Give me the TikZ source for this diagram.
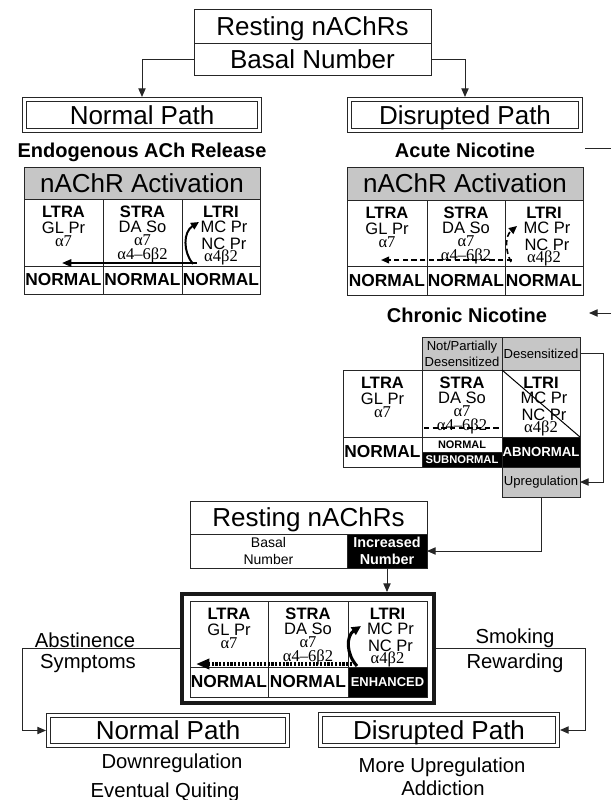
\documentclass[tikz,border=0pt]{standalone}
\usepackage{fontspec}
\setmainfont{Liberation Sans}
\newfontfamily\grf{Liberation Serif}
\usetikzlibrary{calc,arrows.meta}
\newcounter{tl}
\newcommand\Tline[3]{\stepcounter{tl}\node[anchor=base, font=#1] (tl\arabic{tl}) at #2 {#3};}
\newcommand\Rect[7][]{\node[#1, minimum width={(#5-#3)*0.75pt}, minimum height={(#6-#4)*0.75pt}] (#2) at ({(#3+#5)/2},{(#4+#6)/2}) {#7};}
\newcommand\fbig{\fontsize{19.5}{22}\selectfont}
\newcommand\fsub{\bfseries\fontsize{15}{18}\selectfont}
\newcommand\fmid{\fontsize{15.2}{18}\selectfont}
\newcommand\ftab{\fontsize{12.4}{14}\selectfont}
\newcommand\ftabb{\bfseries\fontsize{12.4}{14}\selectfont}
\newcommand\fnorm{\bfseries\fontsize{13}{14}\selectfont}
\newcommand\fgr{\grf\fontsize{12.4}{14}\selectfont}
\newcommand\fsm{\fontsize{9.8}{12}\selectfont}
\newcommand\TopCells[7]{%
 \Rect[cell]{#1a}{#2}{#6}{#3}{#7}{}%
 \Rect[cell]{#1b}{#3}{#6}{#4}{#7}{}%
 \Rect[cell]{#1c}{#4}{#6}{#5}{#7}{}%
 \Tline{\ftabb}{($(#1a.north)+(0,18)$)}{LTRA}%
 \Tline{\ftab}{($(#1a.north)+(0,34)$)}{GL Pr}%
 \Tline{\fgr}{($(#1a.north)+(0,47)$)}{α7}%
 \Tline{\ftabb}{($(#1b.north)+(0,18)$)}{STRA}%
 \Tline{\ftab}{($(#1b.north)+(0,33)$)}{DA So}%
 \Tline{\fgr}{($(#1b.north)+(0,46)$)}{α7}%
 \Tline{\fgr}{($(#1b.north)+(0,60)$)}{α4–6β2}%
 \Tline{\ftabb}{($(#1c.north)+(0,18)$)}{LTRI}%
 \Tline{\ftab}{($(#1c.north)+(3,33)$)}{MC Pr}%
 \Tline{\ftab}{($(#1c.north)+(3,50)$)}{NC Pr}%
 \Tline{\fgr}{($(#1c.north)+(0,62)$)}{α4β2}%
}
\begin{document}
\begin{tikzpicture}[x=0.75pt,y=-0.75pt,
  every node/.style={inner sep=0pt, outer sep=0pt},
  cell/.style={draw=black!85, line width=0.75pt, fill=white},
  hdr/.style={cell, fill=gray!45},
  blk/.style={cell, fill=black, text=white},
  dbl/.style={draw=black!85, line width=0.65pt, double=white, double distance=2.5pt, outer sep=1.9pt, font=\fbig, text height=14pt, text depth=0pt},
  bigbox/.style={cell, font=\fbig, text height=14pt, text depth=0pt},
  conn/.style={draw=black!85, line width=0.75pt, -{Triangle[length=6.5pt,width=5.5pt]}},
  plain/.style={draw=black!85, line width=0.75pt},
]
\useasboundingbox (0,0) rectangle (611,800);

% top resting box
\Rect[bigbox]{rest1a}{194}{9}{431}{43}{Resting nAChRs}
\Rect[bigbox]{rest1b}{194}{43}{431}{75}{Basal Number}

\Rect[dbl]{np1}{24.5}{99.5}{259.5}{130.5}{Normal Path}
\Rect[dbl]{dp1}{349.5}{99.5}{580.5}{130.5}{Disrupted Path}
\draw[conn] (rest1b.west) -| (np1.north);
\draw[conn] (rest1b.east) -| (dp1.north);

\node[font=\fsub, anchor=base] (endo) at (142,157) {Endogenous ACh Release};
\node[font=\fsub, anchor=base] (acute) at (465,157) {Acute Nicotine};
\coordinate (acR) at (585,148);
\coordinate (acE) at (611,148);
\draw[plain] (acR) -- (acE);

% table 1
\Rect[hdr, font=\fbig, text height=14pt, text depth=0pt]{h1}{24}{167}{260}{199}{nAChR Activation}
\TopCells{t1}{24}{103}{182}{260}{199}{266}
\Rect[cell, font=\fnorm]{t1d}{24}{266}{103}{294}{NORMAL}
\Rect[cell, font=\fnorm]{t1e}{103}{266}{182}{294}{NORMAL}
\Rect[cell, font=\fnorm]{t1f}{182}{266}{260}{294}{NORMAL}
\coordinate (t1hs) at (197,263);
\coordinate (t1he) at (62,263);
\draw[line width=1.5pt, -{Triangle[length=7pt,width=5.5pt]}] (t1hs) -- (t1he);
\coordinate (t1cs) at (193,264);
\coordinate (t1ce) at (199,222);
\draw[line width=1.5pt, -{Triangle[length=6pt,width=5.5pt]}] (t1cs) .. controls (183,252) and (183,232) .. (t1ce);

% table 2
\Rect[hdr, font=\fbig, text height=14pt, text depth=0pt]{h2}{347}{167}{583}{200}{nAChR Activation}
\TopCells{t2}{347}{427}{505}{583}{200}{266}
\Rect[cell, font=\fnorm]{t2d}{347}{266}{427}{295}{NORMAL}
\Rect[cell, font=\fnorm]{t2e}{427}{266}{505}{295}{NORMAL}
\Rect[cell, font=\fnorm]{t2f}{505}{266}{583}{295}{NORMAL}
\coordinate (t2hs) at (512,260);
\coordinate (t2he) at (381,260);
\draw[line width=1.2pt, dash pattern=on 4pt off 2.5pt, -{Triangle[length=6pt,width=5pt]}] (t2hs) -- (t2he);
\coordinate (t2cs) at (511,262);
\coordinate (t2ce) at (517,226);
\draw[line width=1.2pt, dash pattern=on 4pt off 2.5pt, -{Triangle[length=6pt,width=5.5pt]}] (t2cs) .. controls (505,250) and (505,236) .. (t2ce);

% chronic
\node[font=\fsub, anchor=base] (chronic) at (467,322) {Chronic Nicotine};
\coordinate (chE) at (611,313);
\coordinate (chR) at (589,313);
\draw[conn] (chE) -- (chR);

\Rect[hdr, font=\fsm, align=center]{npd}{422}{337}{502}{370}{Not/Partially\\Desensitized}
\Rect[hdr, font=\fsm]{des}{502}{337}{580}{370}{Desensitized}
\TopCells{t3}{343}{422}{502}{580}{370}{437}
\Rect[cell, font=\fnorm]{t3d}{343}{437}{422}{467}{NORMAL}
\Rect[cell, font=\bfseries\fontsize{8.2}{9}\selectfont]{t3e}{422}{437}{502}{452}{NORMAL}
\Rect[blk, font=\bfseries\fontsize{8.4}{9}\selectfont]{t3f}{422}{452}{502}{467}{SUBNORMAL}
\Rect[blk, font=\bfseries\fontsize{9.9}{11}\selectfont]{t3g}{502}{437}{580}{467}{ABNORMAL}
\Rect[hdr, font=\fsm]{upreg}{502}{467}{580}{497}{Upregulation}
\coordinate (t3ss) at (424,428);
\coordinate (t3se) at (500,428);
\draw[line width=0.9pt, dash pattern=on 4pt off 2.5pt] (t3ss) -- (t3se);
\draw[line width=0.75pt] (t3c.north west) -- (t3c.south east);
\draw[conn] (des.east) -- ++(23,0) |- (upreg.east);

% second resting box
\Rect[bigbox]{rest2a}{190}{501}{427}{534}{Resting nAChRs}
\Rect[cell, font=\fontsize{10.5}{12.5}\selectfont, align=center]{basal2}{190}{534}{347}{568}{Basal\\Number}
\Rect[blk, font=\bfseries\fontsize{10.8}{12.8}\selectfont, align=center]{incr}{347}{534}{427}{568}{Increased\\Number}
\draw[conn] (upreg.south) |- (incr.east);

% bottom table
\Rect[draw=black!90, line width=3pt, outer sep=1.5pt]{outer}{182}{594}{433.5}{702.5}{}
\draw[conn] (incr.south) -- (incr.south |- outer.north);
\TopCells{t4}{190}{268}{348}{427}{601}{667}
\Rect[cell, font=\fnorm]{t4d}{190}{667}{268}{697}{NORMAL}
\Rect[cell, font=\fnorm]{t4e}{268}{667}{348}{697}{NORMAL}
\Rect[blk, font=\bfseries\fontsize{9.7}{11}\selectfont]{t4f}{348}{667}{427}{697}{ENHANCED}
\coordinate (t4hs) at (352,664);
\coordinate (t4he) at (196,664);
\draw[line width=3pt, dash pattern=on 1.6pt off 1.2pt, -{Triangle[length=10pt,width=7.5pt]}] (t4hs) -- (t4he);
\coordinate (t4cs) at (357,666);
\coordinate (t4ce) at (361,626);
\draw[line width=2.3pt, -{Triangle[length=7pt,width=6.5pt]}] (t4cs) .. controls (346,654) and (346,636) .. (t4ce);

\Rect[dbl]{np2}{48.5}{715.5}{287.5}{745.5}{Normal Path}
\Rect[dbl]{dp2}{320.5}{714.5}{557.5}{745.5}{Disrupted Path}
\draw[conn] (outer.west) -- ++(-158,0) |- (np2.west);
\draw[conn] (outer.east) -- ++(149.5,0) |- (dp2.east);

\node[font=\fmid, anchor=base] (abst) at (85,647) {Abstinence};
\node[font=\fmid, anchor=base] (symp) at (88,668) {Symptoms};
\node[font=\fmid, anchor=base] (smok) at (515,643) {Smoking};
\node[font=\fmid, anchor=base] (rewd) at (515,668) {Rewarding};
\node[font=\fmid, anchor=base] (down) at (172,768) {Downregulation};
\node[font=\fmid, anchor=base] (evq) at (165,797) {Eventual Quiting};
\node[font=\fmid, anchor=base] (moreup) at (442,772) {More Upregulation};
\node[font=\fmid, anchor=base] (addic) at (443,795) {Addiction};
\end{tikzpicture}
\end{document}
